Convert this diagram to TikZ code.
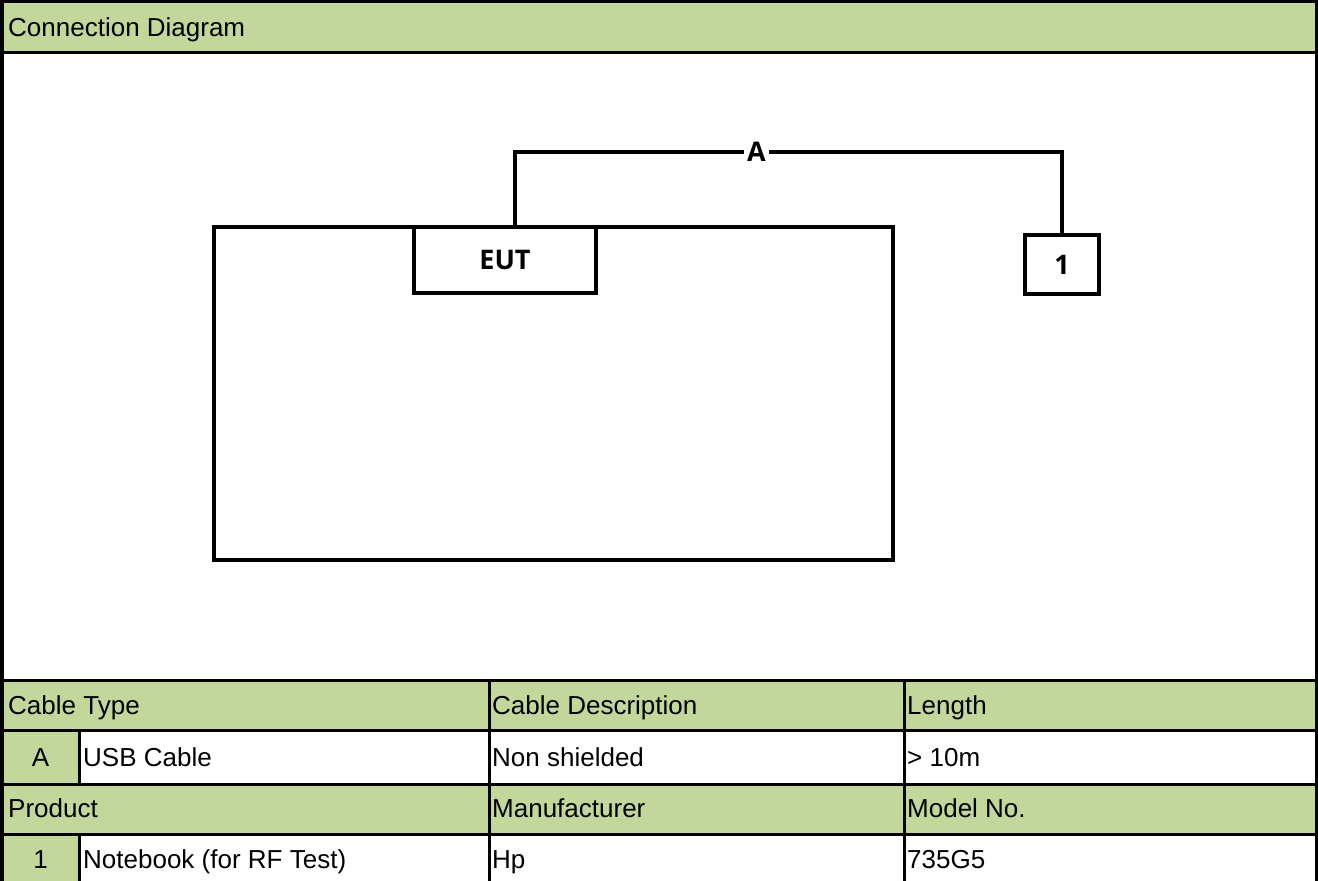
\documentclass[tikz,border=0pt]{standalone}
\usepackage{fontspec}
\setmainfont{Liberation Sans}
\newfontfamily\diafont{Open Sans}
\definecolor{hdrgreen}{RGB}{196,215,155}
\begin{document}
\begin{tikzpicture}[x=1pt,y=-1pt,
  tline/.style={line width=3pt, black},
  tx/.style={anchor=base west, inner sep=0pt, font=\fontsize{26}{30}\selectfont},
  txc/.style={anchor=base, inner sep=0pt, font=\fontsize{26}{30}\selectfont},
  dline/.style={line width=4pt, black},
  dbox/.style={draw, line width=4pt, black, inner sep=0pt, font=\diafont\bfseries\fontsize{27}{30}\selectfont},
  dlbl/.style={fill=white, inner sep=3pt, font=\diafont\bfseries\fontsize{27}{30}\selectfont},
]
\useasboundingbox (0,0) rectangle (1318,881);
\fill[white] (0,0) rectangle (1318,881);
% green fills
\fill[hdrgreen] (0,0) rectangle (1318,52);
\fill[hdrgreen] (0,680) rectangle (1318,730);
\fill[hdrgreen] (0,730) rectangle (79,784);
\fill[hdrgreen] (0,784) rectangle (1318,834);
\fill[hdrgreen] (0,834) rectangle (79,881);
% table lines
\draw[tline] (0,52.5) -- (1318,52.5);
\foreach \yy in {680,730,784,834} \draw[tline] (0,\yy) -- (1318,\yy);
\draw[tline] (79,730) -- (79,784);
\draw[tline] (79,834) -- (79,881);
\draw[tline] (489,680) -- (489,881);
\draw[tline] (904,680) -- (904,881);
% outer border
\draw[line width=4pt] (2,0) -- (2,881);
\draw[line width=3pt] (1316.5,0) -- (1316.5,881);
\draw[line width=3pt] (0,1.5) -- (1318,1.5);

% header text
\node[tx] (title) at (8,36) {Connection Diagram};
% row 1
\node[tx] (ctype) at (8,714) {Cable Type};
\node[tx] (cdesc) at (492,714) {Cable Description};
\node[tx] (clen) at (907,714) {Length};
% row 2
\node[txc] (cA) at (40.5,766) {A};
\node[tx] (cusb) at (83,766) {USB Cable};
\node[tx] (cns) at (492,766) {Non shielded};
\node[tx] (c10) at (907,766) {> 10m};
% row 3
\node[tx] (prod) at (8,817) {Product};
\node[tx] (manu) at (492,817) {Manufacturer};
\node[tx] (model) at (907,817) {Model No.};
% row 4
\node[txc] (p1) at (40.5,868) {1};
\node[tx] (pnb) at (83,868) {Notebook (for RF Test)};
\node[tx] (php) at (492,868) {Hp};
\node[tx] (pmod) at (907,868) {735G5};

% diagram
\draw[dline] (214,227) rectangle (893,560);
\node[dbox, minimum width=182pt, minimum height=66pt] (eut) at (505,260) {EUT};
\node[dbox, minimum width=74pt, minimum height=59pt] (box1) at (1062,264.5) {1};
\coordinate (bend) at (515,152);
\draw[dline] ([xshift=10pt]eut.north) -- (bend) -| (box1.north);
\node[dlbl] (lblA) at (756.5,152) {A};
\end{tikzpicture}
\end{document}
